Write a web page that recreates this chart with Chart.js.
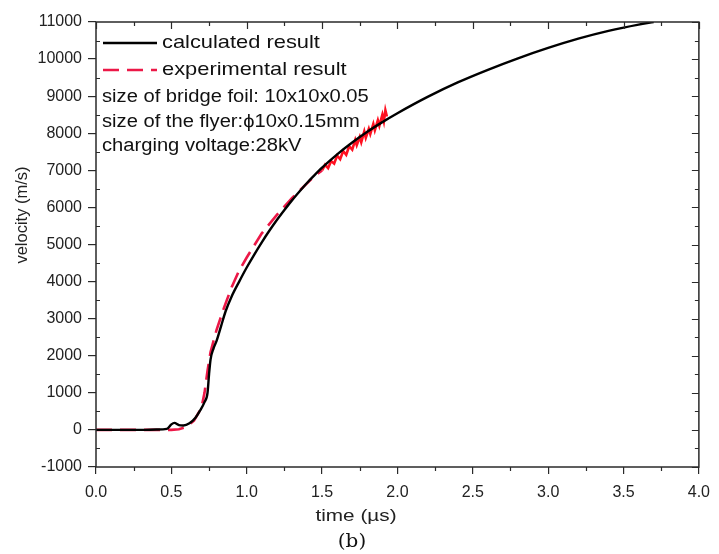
<!DOCTYPE html>
<html>
<head>
<meta charset="utf-8">
<script src="https://cdn.jsdelivr.net/npm/chart.js@4"></script>
<style>
  html, body { margin: 0; padding: 0; background: #fff; }
  #wrap { width: 719px; height: 554px; position: relative; }
</style>
</head>
<body>
<div id="wrap"><canvas id="c" width="719" height="554"></canvas></div>
<script>
// Calculated flyer velocity (time in µs, velocity in m/s)
const calcTime = [0, 0.1, 0.2, 0.3, 0.4, 0.47, 0.5, 0.52, 0.55, 0.58, 0.62, 0.66, 0.69, 0.72, 0.74, 0.75, 0.76, 0.78, 0.8, 0.83, 0.86, 0.9, 0.95, 1.0, 1.05, 1.1, 1.15, 1.2, 1.25, 1.3, 1.35, 1.4, 1.45, 1.5, 1.6, 1.7, 1.8, 1.9, 2.0, 2.2, 2.4, 2.6, 2.8, 3.0, 3.2, 3.4, 3.6, 3.7];
const calcVel  = [0, 0, 0, 0, 10, 30, 150, 190, 130, 120, 180, 330, 520, 750, 1000, 1500, 1900, 2200, 2400, 2800, 3200, 3600, 4000, 4380, 4730, 5060, 5370, 5660, 5930, 6190, 6430, 6660, 6870, 7070, 7430, 7750, 8040, 8300, 8540, 8980, 9370, 9710, 10020, 10300, 10550, 10760, 10930, 11000];

// Measured flyer velocity
const expTime = [0, 0.1, 0.2, 0.3, 0.4, 0.5, 0.55, 0.6, 0.65, 0.7, 0.72, 0.74, 0.76, 0.8, 0.85, 0.9, 0.95, 1.0, 1.1, 1.2, 1.3, 1.4, 1.45, 1.5, 1.52, 1.54, 1.56, 1.58, 1.6, 1.62, 1.64, 1.66, 1.68, 1.7, 1.72, 1.73, 1.75, 1.76, 1.78, 1.79, 1.81, 1.82, 1.84, 1.85, 1.87, 1.88, 1.9, 1.91, 1.92, 1.93];
const expVel  = [0, 0, 0, 0, 0, 0, 20, 80, 250, 600, 1000, 1600, 2100, 2700, 3300, 3850, 4300, 4650, 5300, 5800, 6250, 6650, 6850, 7000, 7150, 7060, 7250, 7180, 7400, 7300, 7520, 7420, 7650, 7560, 7820, 7680, 7900, 7760, 8050, 7880, 8120, 7980, 8250, 8080, 8350, 8200, 8500, 8320, 8620, 8450];

const xTicks = [0, 0.5, 1.0, 1.5, 2.0, 2.5, 3.0, 3.5, 4.0];
const yTicks = [-1000, 0, 1000, 2000, 3000, 4000, 5000, 6000, 7000, 8000, 9000, 10000, 11000];

const seriesNames = ['calculated result', 'experimental result'];
const notes = ['size of bridge foil: 10x10x0.05', 'size of the flyer:\u03d510x0.15mm', 'charging voltage:28kV'];

const FONT = "'Liberation Sans', Arial, sans-serif";
const AXIS = '#2a2a2a';
const RED = '#ec1847';
const NOISE_FROM = 1.5;

const zip = (xs, ys) => xs.map((x, i) => ({ x, y: ys[i] }));

// text drawn slightly widened, the way the figure's lettering is set
function wideText(ctx, text, x, y, sx, align) {
  ctx.save();
  ctx.translate(x, y);
  ctx.scale(sx, 1);
  ctx.textAlign = align;
  ctx.fillText(text, 0, 0);
  ctx.restore();
}

// Box frame, minor ticks, inward ticks on top/right, axis titles, legend and notes
const decor = {
  id: 'decor',
  afterDraw(chart) {
    const { ctx, chartArea: a, scales: { x, y } } = chart;
    ctx.save();
    ctx.strokeStyle = AXIS;
    ctx.lineWidth = 1.5;
    ctx.strokeRect(a.left, a.top, a.right - a.left, a.bottom - a.top);
    ctx.lineWidth = 1.2;
    ctx.beginPath();
    for (let v = 0; v <= 4.0001; v += 0.25) {
      const px = Math.round(x.getPixelForValue(v)) + 0.5;
      const major = Math.abs(v * 2 - Math.round(v * 2)) < 1e-6;
      const len = major ? 7 : 4;
      ctx.moveTo(px, a.top); ctx.lineTo(px, a.top + len);
      if (!major) { ctx.moveTo(px, a.bottom); ctx.lineTo(px, a.bottom + 4); }
    }
    for (let v = -1000; v <= 11000; v += 500) {
      const py = Math.round(y.getPixelForValue(v)) + 0.5;
      const major = v % 1000 === 0;
      const len = major ? 7 : 4;
      ctx.moveTo(a.right, py); ctx.lineTo(a.right - len, py);
      if (!major) { ctx.moveTo(a.left, py); ctx.lineTo(a.left + 4, py); }
    }
    ctx.stroke();

    // axis titles
    ctx.fillStyle = '#222';
    ctx.textBaseline = 'middle';
    ctx.font = '17px ' + FONT;
    wideText(ctx, 'time (\u00b5s)', 356, 516, 1.22, 'center');
    ctx.save();
    ctx.translate(22, 215);
    ctx.rotate(-Math.PI / 2);
    ctx.font = '16.5px ' + FONT;
    ctx.textAlign = 'center';
    ctx.fillText('velocity (m/s)', 0, 0);
    ctx.restore();
    ctx.font = "19px 'DejaVu Serif', 'Liberation Serif', serif";
    ctx.fillStyle = '#111';
    wideText(ctx, '(b)', 352, 542, 1.05, 'center');

    // legend
    const lx0 = a.left + 7, lx1 = a.left + 61, tx = a.left + 66;
    ctx.lineWidth = 2.6;
    ctx.strokeStyle = '#000';
    ctx.beginPath(); ctx.moveTo(lx0, 43); ctx.lineTo(lx1, 43); ctx.stroke();
    ctx.strokeStyle = RED;
    ctx.setLineDash([16, 8]);
    ctx.beginPath(); ctx.moveTo(lx0, 70); ctx.lineTo(lx1, 70); ctx.stroke();
    ctx.setLineDash([]);
    ctx.fillStyle = '#111';
    ctx.font = '19px ' + FONT;
    wideText(ctx, seriesNames[0], tx, 43, 1.15, 'left');
    wideText(ctx, seriesNames[1], tx, 70, 1.15, 'left');
    ctx.font = '18px ' + FONT;
    [97, 122, 146].forEach((yy, i) => wideText(ctx, notes[i], a.left + 6, yy, 1.12, 'left'));
    ctx.restore();
  }
};

new Chart(document.getElementById('c'), {
  type: 'scatter',
  data: {
    datasets: [
      {
        label: seriesNames[1],
        data: zip(expTime, expVel),
        showLine: true,
        borderColor: RED,
        borderWidth: 2.6,
        borderDash: [16, 8],
        pointRadius: 0,
        tension: 0,
        segment: {
          borderDash: c => (c.p0.parsed.x >= NOISE_FROM ? [] : [16, 8]),
          borderColor: c => (c.p0.parsed.x >= NOISE_FROM ? '#ff1020' : RED)
        },
        order: 2
      },
      {
        label: seriesNames[0],
        data: zip(calcTime, calcVel),
        showLine: true,
        borderColor: '#000',
        borderWidth: 2.4,
        pointRadius: 0,
        cubicInterpolationMode: 'monotone',
        order: 1
      }
    ]
  },
  options: {
    responsive: false,
    animation: false,
    layout: { padding: { left: 0, top: 22, right: 16, bottom: 0 } },
    plugins: { legend: { display: false }, tooltip: { enabled: false } },
    scales: {
      x: {
        type: 'linear',
        min: 0, max: 4,
        afterBuildTicks: s => { s.ticks = xTicks.map(v => ({ value: v })); },
        afterFit: s => { s.height = 87; },
        border: { display: false },
        grid: { drawOnChartArea: false, drawTicks: true, tickLength: 7, tickColor: AXIS, lineWidth: 1.2 },
        ticks: {
          color: '#222', padding: 9, maxRotation: 0,
          font: { family: FONT, size: 16 },
          callback: v => v.toFixed(1)
        }
      },
      y: {
        type: 'linear',
        min: -1000, max: 11000,
        afterBuildTicks: s => { s.ticks = yTicks.map(v => ({ value: v })); },
        afterFit: s => { s.width = 96; },
        border: { display: false },
        grid: { drawOnChartArea: false, drawTicks: true, tickLength: 8, tickColor: AXIS, lineWidth: 1.2 },
        ticks: {
          color: '#222', padding: 6,
          font: { family: FONT, size: 16 },
          callback: v => String(v)
        }
      }
    }
  },
  plugins: [decor]
});
</script>
</body>
</html>
